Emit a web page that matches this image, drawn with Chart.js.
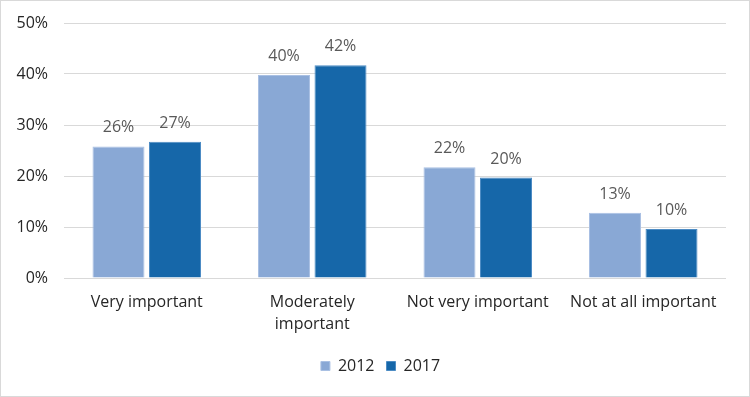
<!DOCTYPE html>
<html>
<head>
<meta charset="utf-8">
<script src="https://cdn.jsdelivr.net/npm/chart.js@4"></script>
<style>
html,body{margin:0;padding:0;background:#fff;}
#wrap{position:relative;width:748px;height:395px;border:1px solid #d9d9d9;}
canvas{display:block;}
</style>
</head>
<body>
<div id="wrap"><canvas id="c" width="748" height="395"></canvas></div>
<script>
const categories = [["Very important"], ["Moderately", "important"], ["Not very important"], ["Not at all important"]];
const seriesNames = ["2012", "2017"];
const values2012 = [25.8, 39.8, 21.7, 12.8];
const values2017 = [26.7, 41.7, 19.7, 9.6];
const labels2012 = ["26%", "40%", "22%", "13%"];
const labels2017 = ["27%", "42%", "20%", "10%"];
const yTicks = [0, 10, 20, 30, 40, 50];

const FONT = "'Open Sans', 'Liberation Sans', sans-serif";

const dataLabelPlugin = {
  id: 'dataLabels',
  afterDatasetsDraw(chart) {
    const ctx = chart.ctx;
    const lbls = [labels2012, labels2017];
    chart.data.datasets.forEach((ds, i) => {
      const meta = chart.getDatasetMeta(i);
      meta.data.forEach((bar, j) => {
        ctx.save();
        ctx.font = "16px " + FONT;
        ctx.fillStyle = '#595959';
        ctx.textAlign = 'center';
        ctx.textBaseline = 'alphabetic';
        ctx.fillText(lbls[i][j], bar.x, bar.y - 14);
        ctx.restore();
      });
    });
  }
};

const legendShift = {
  id: 'legendShift',
  afterLayout(chart) {
    if (chart.legend) { chart.legend.left += 17; chart.legend.right += 17; }
  }
};

new Chart(document.getElementById('c'), {
  type: 'bar',
  data: {
    labels: categories,
    datasets: [
      { label: seriesNames[0], data: values2012, backgroundColor: '#89a8d5', borderColor: '#a9c0e3', borderWidth: 1 },
      { label: seriesNames[1], data: values2017, backgroundColor: '#1667a9', borderColor: '#4d8cc4', borderWidth: 1 }
    ]
  },
  options: {
    responsive: false,
    animation: false,
    devicePixelRatio: 1,
    layout: { padding: { left: 0, right: 23, top: 22, bottom: 12 } },
    datasets: { bar: { categoryPercentage: 0.683, barPercentage: 0.92 } },
    scales: {
      y: {
        min: 0, max: 50,
        afterBuildTicks(axis) { axis.ticks = yTicks.map(v => ({ value: v })); },
        afterFit(axis) { axis.width = 63; axis.paddingTop = 0; axis.paddingBottom = 0; },
        ticks: { callback: v => v + '%', font: { size: 16, family: FONT }, color: '#262626', padding: 16 },
        grid: { color: '#d9d9d9', drawTicks: false, lineWidth: 1 },
        border: { display: false }
      },
      x: {
        afterFit(axis) { axis.height = 68; axis.paddingLeft = 0; axis.paddingRight = 0; },
        ticks: { font: { size: 16, family: FONT, lineHeight: 1.35 }, color: '#262626', padding: 14, maxRotation: 0, autoSkip: false },
        grid: { display: false, drawTicks: false },
        border: { display: false }
      }
    },
    plugins: {
      legend: {
        position: 'bottom',
        labels: { font: { size: 16, family: FONT }, color: '#262626', boxWidth: 9, boxHeight: 9, padding: 12, useBorderRadius: false }
      },
      tooltip: { enabled: false }
    }
  },
  plugins: [dataLabelPlugin, legendShift]
});
</script>
</body>
</html>
